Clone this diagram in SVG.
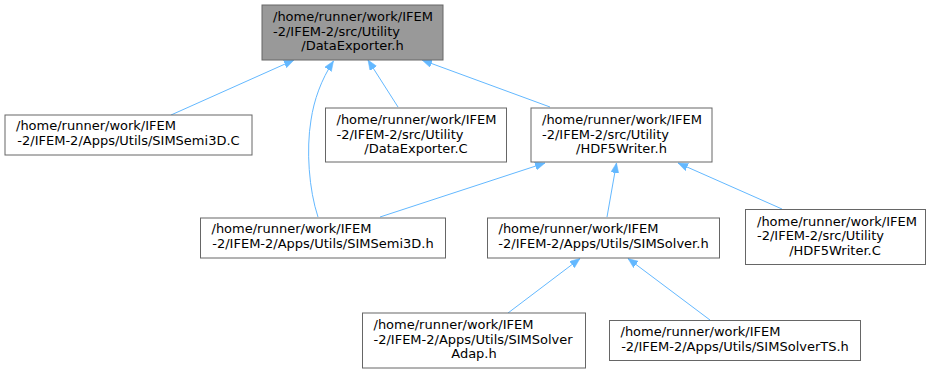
<svg xmlns="http://www.w3.org/2000/svg" width="933" height="373" viewBox="0 0 933 373">
<style>
.box{fill:#ffffff;stroke:#666666;stroke-width:1}
.hl{fill:#999999;stroke:#666666;stroke-width:1}
text{font-family:"DejaVu Sans","Liberation Sans",sans-serif;font-size:13px;fill:#000000}
.m{text-anchor:middle}
.e{fill:none;stroke:#63b8ff;stroke-width:1;marker-end:url(#ah)}
</style>
<defs>
<marker id="ah" markerUnits="userSpaceOnUse" markerWidth="11" markerHeight="9" refX="10" refY="4" orient="auto">
<path d="M0,0 L10,4 L0,8 z" fill="#63b8ff" stroke="#63b8ff" stroke-width="0.5"/>
</marker>
</defs>
<rect width="933" height="373" fill="#ffffff"/>
<g id="edges">
<path class="e" d="M171,115 L294,60"/>
<path class="e" d="M318,217 C309,190 306,150 311,120 C314,100 321,80 333.5,61"/>
<path class="e" d="M398,107 L368,60"/>
<path class="e" d="M550,107 L422,60"/>
<path class="e" d="M380,217 L545,163"/>
<path class="e" d="M607,217 L616.5,163"/>
<path class="e" d="M782,209 L678,163"/>
<path class="e" d="M508,313 L580,258.5"/>
<path class="e" d="M710,320 L628,258.5"/>
</g>
<g id="n_DataExporter_h">
<rect class="hl" x="262" y="5" width="181" height="55"/>
<text x="273" y="21">/home/runner/work/IFEM</text>
<text x="273" y="35.5">-2/IFEM-2/src/Utility</text>
<text class="m" x="352.5" y="50">/DataExporter.h</text>
</g>
<g id="n_SIMSemi3D_C">
<rect class="box" x="5" y="115" width="247" height="40"/>
<text x="16" y="130">/home/runner/work/IFEM</text>
<text class="m" x="128.5" y="145">-2/IFEM-2/Apps/Utils/SIMSemi3D.C</text>
</g>
<g id="n_DataExporter_C">
<rect class="box" x="325.5" y="108" width="181" height="54"/>
<text x="336.5" y="124">/home/runner/work/IFEM</text>
<text x="336.5" y="138.5">-2/IFEM-2/src/Utility</text>
<text class="m" x="416" y="153">/DataExporter.C</text>
</g>
<g id="n_HDF5Writer_h">
<rect class="box" x="531" y="108" width="181" height="54"/>
<text x="542" y="124">/home/runner/work/IFEM</text>
<text x="542" y="138.5">-2/IFEM-2/src/Utility</text>
<text class="m" x="621.5" y="153">/HDF5Writer.h</text>
</g>
<g id="n_SIMSemi3D_h">
<rect class="box" x="200.5" y="218" width="245" height="40"/>
<text x="211.5" y="233">/home/runner/work/IFEM</text>
<text class="m" x="323" y="248">-2/IFEM-2/Apps/Utils/SIMSemi3D.h</text>
</g>
<g id="n_SIMSolver_h">
<rect class="box" x="487.5" y="218" width="232" height="40"/>
<text x="498.5" y="233">/home/runner/work/IFEM</text>
<text class="m" x="603.5" y="248">-2/IFEM-2/Apps/Utils/SIMSolver.h</text>
</g>
<g id="n_HDF5Writer_C">
<rect class="box" x="745.5" y="209.5" width="180" height="55"/>
<text x="757" y="225.5">/home/runner/work/IFEM</text>
<text x="757" y="240">-2/IFEM-2/src/Utility</text>
<text class="m" x="835" y="254.5">/HDF5Writer.C</text>
</g>
<g id="n_SIMSolverAdap_h">
<rect class="box" x="362.5" y="313" width="223" height="55"/>
<text x="373.5" y="329">/home/runner/work/IFEM</text>
<text x="373.5" y="343.5">-2/IFEM-2/Apps/Utils/SIMSolver</text>
<text class="m" x="474" y="358">Adap.h</text>
</g>
<g id="n_SIMSolverTS_h">
<rect class="box" x="609.5" y="320.5" width="251" height="40"/>
<text x="620.5" y="335.5">/home/runner/work/IFEM</text>
<text class="m" x="735" y="350.5">-2/IFEM-2/Apps/Utils/SIMSolverTS.h</text>
</g>
</svg>
